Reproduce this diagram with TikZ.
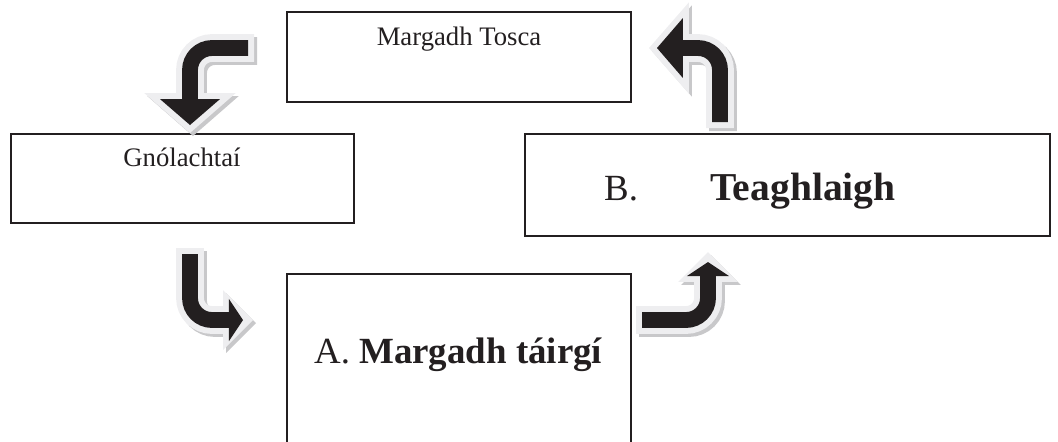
\documentclass[tikz,border=0pt]{standalone}
\usepackage{fontspec}
\setmainfont{Liberation Serif}
\usetikzlibrary{arrows.meta,calc}

\definecolor{ink}{RGB}{35,31,32}
\definecolor{rimgray}{RGB}{238,238,240}
\definecolor{shadegray}{RGB}{200,200,202}

\tikzset{
  box/.style={draw=ink, line width=1.1pt, inner sep=0pt},
  lbl/.style={text=ink, font=\fontsize{15.2}{18}\selectfont},
  title/.style={text=ink, font=\fontsize{21}{25}\selectfont},
  core/.style={draw=ink, line width=9pt},
  rim/.style={draw=rimgray, line width=15.8pt},
  shade/.style={draw=shadegray, line width=15.8pt, transform canvas={shift={(0.06cm,-0.06cm)}}},
  bigcore/.style={-{Triangle[width=34pt,length=14.7pt,line width=0pt]}},
  bigrim/.style={-{Triangle[width=52pt,length=22.7pt,line width=0pt]}},
  smallcore/.style={-{Triangle[width=24pt,length=8pt,line width=0pt]}},
  smallrim/.style={-{Triangle[width=34pt,length=17pt,line width=0pt]}},
}

% bent arrow: start, corner, tip, head size (big/small), tip overhang of the rim
\newcommand{\bentarrow}[5]{%
  \draw[shade, #4rim] ($(#1)!-0.12cm!(#2)$) [rounded corners=0.44cm] -- (#2) -- ($(#3)!-#5!(#2)$);
  \draw[rim, #4rim] ($(#1)!-0.12cm!(#2)$) [rounded corners=0.44cm] -- (#2) -- ($(#3)!-#5!(#2)$);
  \draw[core, #4core] (#1) [rounded corners=0.44cm] -- (#2) -- (#3);
}

\begin{document}
\begin{tikzpicture}[x=0.02cm, y=-0.02cm]
  \useasboundingbox (0,0) rectangle (1058,441);
  \clip (0,0) rectangle (1058,441);

  % Boxes
  \node[box, minimum width=6.88cm, minimum height=1.8cm] (tosca) at (459,57) {};
  \node[box, minimum width=6.86cm, minimum height=1.78cm] (gnol) at (182.5,178.5) {};
  \node[box, minimum width=10.5cm, minimum height=2.04cm] (teag) at (787.5,185) {};
  \node[box, minimum width=6.88cm, minimum height=4cm] (tairgi) at (459,374) {};

  % Labels
  \node[lbl, anchor=base] (toscatxt) at (459,45) {Margadh Tosca};
  \node[lbl, anchor=base] (gnoltxt) at (182,166) {Gnólachtaí};
  \node[title, anchor=base west] (tairgitxt) at (308,363) {A. \textbf{Margadh táirgí}};
  \node[title, anchor=base west] (teagB) at (598,200) {B.};
  \node[title, anchor=base west, font=\fontsize{22.5}{26}\selectfont\bfseries] (teagtxt) at (704,200) {Teaghlaigh};

  % Arrows
  \coordinate (tlA) at (248,48);
  \coordinate (tlB) at (190,48);
  \coordinate (tlC) at (190,125);
  \coordinate (trA) at (720,122);
  \coordinate (trB) at (720,48);
  \coordinate (trC) at (657,48);
  \coordinate (blA) at (190,254);
  \coordinate (blB) at (190,320);
  \coordinate (blC) at (243,320);
  \coordinate (brA) at (642,320);
  \coordinate (brB) at (708,320);
  \coordinate (brC) at (708,262);
  \bentarrow{tlA}{tlB}{tlC}{big}{0.16cm}
  \bentarrow{trA}{trB}{trC}{big}{0.16cm}
  \bentarrow{blA}{blB}{blC}{small}{0.2cm}
  \bentarrow{brA}{brB}{brC}{small}{0.2cm}
\end{tikzpicture}
\end{document}
